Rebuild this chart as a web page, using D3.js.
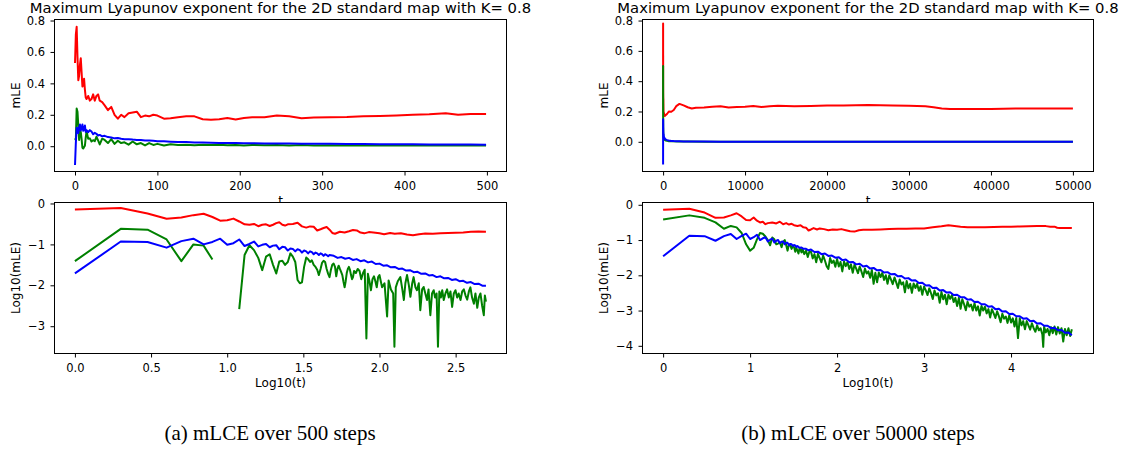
<!DOCTYPE html>
<html>
<head>
<meta charset="utf-8">
<script src="https://cdnjs.cloudflare.com/ajax/libs/d3/7.8.5/d3.min.js"></script>
<style>
  body { margin: 0; background: #fff; }
  svg { display: block; }
  .tick text { font-family: "DejaVu Sans", sans-serif; font-size: 11.5px; fill: #000; }
  .tick line { stroke: #000; stroke-width: 1; }
  .axlabel { font-family: "DejaVu Sans", sans-serif; font-size: 12px; fill: #000; }
  .title { font-family: "DejaVu Sans", sans-serif; font-size: 14.8px; fill: #000; }
  .caption { font-family: "Liberation Serif", serif; font-size: 21px; fill: #000; }
</style>
</head>
<body>
<div id="chart"></div>
<script>
/* jshint esversion: 6*/

/*******  Data ******/
const TITLE = "Maximum Lyapunov exponent for the 2D standard map with K= 0.8";
const captions = ["(a) mLCE over 500 steps", "(b) mLCE over 50000 steps"];

// tick labels
const ticksStepsA = [0, 100, 200, 300, 400, 500];
const ticksStepsB = [0, 10000, 20000, 30000, 40000, 50000];
const ticksMle = [0.0, 0.2, 0.4, 0.6, 0.8];
const ticksLogtA = [0.0, 0.5, 1.0, 1.5, 2.0, 2.5];
const ticksLogtB = [0, 1, 2, 3, 4];
const ticksLogA = [0, -1, -2, -3];
const ticksLogB = [0, -1, -2, -3, -4];

// (a) mLE vs t, [t, mLE]
const redTopA = [[0,0.53],[1,0.71],[2,0.76],[3,0.57],[4,0.42],[5,0.45],[6,0.52],[7,0.56],[8,0.47],[9,0.38],[10,0.39],[11,0.43],[12,0.36],[13,0.31],[14,0.30],[16,0.32],[18,0.29],[20,0.30],[22,0.33],[24,0.29],[26,0.32],[28,0.33],[30,0.29],[33,0.28],[36,0.26],[40,0.23],[44,0.25],[48,0.20],[52,0.175],[56,0.20],[60,0.185],[65,0.21],[70,0.215],[75,0.22],[80,0.185],[85,0.195],[90,0.19],[95,0.20],[100,0.195],[108,0.175],[116,0.178],[125,0.185],[135,0.19],[145,0.19],[155,0.172],[165,0.168],[175,0.172],[185,0.18],[195,0.17],[205,0.18],[215,0.185],[230,0.185],[245,0.195],[260,0.19],[275,0.178],[290,0.182],[310,0.185],[330,0.186],[350,0.19],[370,0.192],[390,0.196],[410,0.2],[430,0.203],[450,0.21],[465,0.2],[480,0.205],[499,0.205]];
const greenTopA = [[0,0.05],[1,0.04],[2,0.24],[3,0.22],[4,0.13],[5,0.04],[6,0.1],[7,0.09],[8,0.045],[9,-0.01],[10,-0.015],[11,-0.005],[12,0.003],[13,0.055],[14,0.095],[16,0.047],[18,0.05],[20,0.03],[22,0.038],[24,0.032],[26,0.06],[28,0.037],[30,0.011],[33,0.048],[36,0.04],[40,0.02],[44,0.045],[48,0.015],[52,0.035],[56,0.02],[60,0.025],[65,0.01],[70,0.03],[75,0.012],[80,0.02],[85,0.005],[90,0.02],[95,0.008],[100,0.015],[108,0.004],[116,0.012],[125,0.008],[135,0.01],[145,0.006],[155,0.01],[165,0.007],[175,0.009],[185,0.006],[195,0.008],[205,0.005],[215,0.008],[230,0.006],[245,0.007],[260,0.005],[275,0.007],[290,0.005],[310,0.006],[330,0.004],[350,0.006],[370,0.005],[390,0.006],[410,0.004],[430,0.006],[450,0.005],[465,0.004],[480,0.005],[499,0.004]];
const blueTopA = [[0,-0.12],[1,0.02],[2,0.117],[3,0.115],[4,0.083],[5,0.12],[6,0.138],[7,0.1],[8,0.115],[9,0.138],[10,0.098],[11,0.107],[12,0.132],[13,0.091],[14,0.102],[16,0.089],[18,0.102],[20,0.093],[22,0.076],[24,0.085],[26,0.079],[28,0.068],[30,0.072],[33,0.063],[36,0.066],[40,0.058],[44,0.055],[48,0.05],[52,0.052],[56,0.047],[60,0.045],[65,0.045],[70,0.042],[75,0.04],[80,0.039],[85,0.037],[90,0.036],[95,0.034],[100,0.032],[108,0.031],[116,0.029],[125,0.027],[135,0.026],[145,0.024],[155,0.023],[165,0.022],[175,0.021],[185,0.0205],[195,0.02],[205,0.019],[215,0.0185],[230,0.018],[245,0.017],[260,0.0165],[275,0.016],[290,0.0155],[310,0.015],[330,0.014],[350,0.0135],[370,0.013],[390,0.0125],[410,0.012],[430,0.0115],[450,0.011],[465,0.0105],[480,0.0102],[499,0.0098]];

// (a) Log10(mLE) vs Log10(t), [log t, log mLE]; null = negative mLE
const redLogA = [[0,-0.15],[0.301,-0.11],[0.477,-0.245],[0.602,-0.375],[0.699,-0.345],[0.778,-0.285],[0.845,-0.25],[0.903,-0.33],[0.954,-0.42],[1.0,-0.41],[1.041,-0.37],[1.079,-0.44],[1.114,-0.51],[1.146,-0.52],[1.176,-0.5],[1.204,-0.555],[1.23,-0.52],[1.255,-0.51],[1.279,-0.55],[1.301,-0.52],[1.322,-0.48],[1.342,-0.46],[1.362,-0.52],[1.38,-0.54],[1.398,-0.51],[1.431,-0.5],[1.462,-0.47],[1.491,-0.56],[1.519,-0.59],[1.544,-0.56],[1.568,-0.57],[1.591,-0.66],[1.613,-0.63],[1.633,-0.6],[1.653,-0.575],[1.672,-0.64],[1.69,-0.72],[1.708,-0.74],[1.74,-0.69],[1.771,-0.71],[1.8,-0.68],[1.826,-0.65],[1.851,-0.66],[1.875,-0.71],[1.9,-0.73],[1.93,-0.7],[1.96,-0.71],[2.0,-0.73],[2.03,-0.75],[2.07,-0.72],[2.1,-0.74],[2.14,-0.73],[2.18,-0.76],[2.22,-0.775],[2.26,-0.75],[2.3,-0.735],[2.35,-0.74],[2.4,-0.73],[2.45,-0.72],[2.5,-0.715],[2.55,-0.71],[2.6,-0.69],[2.65,-0.685],[2.699,-0.69]];
const greenLogA = [[0,-1.41],[0.301,-0.62],[0.477,-0.64],[0.602,-0.88],[0.699,-1.41],[0.778,-1.0],[0.845,-1.03],[0.903,-1.37],[0.954,null],[1.0,null],[1.041,null],[1.079,-2.58],[1.114,-1.26],[1.146,-1.02],[1.176,-1.14],[1.204,-1.33],[1.23,-1.63],[1.255,-1.3],[1.279,-1.24],[1.301,-1.5],[1.322,-1.71],[1.342,-1.42],[1.362,-1.4],[1.38,-1.5],[1.398,-1.43],[1.415,-1.22],[1.431,-1.3],[1.447,-1.43],[1.462,-1.87],[1.477,-1.95],[1.491,-1.93],[1.505,-1.55],[1.519,-1.32],[1.531,-1.36],[1.544,-1.43],[1.556,-1.39],[1.568,-1.5],[1.58,-1.55],[1.591,-1.62],[1.602,-1.75],[1.613,-1.6],[1.623,-1.45],[1.633,-1.4],[1.643,-1.43],[1.653,-1.6],[1.663,-1.72],[1.672,-1.8],[1.681,-1.62],[1.69,-1.5],[1.699,-1.47],[1.708,-1.55],[1.716,-1.78],[1.724,-1.6],[1.732,-1.52],[1.74,-1.6],[1.748,-1.67],[1.756,-1.75],[1.763,-1.9],[1.771,-2.05],[1.778,-1.9],[1.785,-1.7],[1.792,-1.6],[1.799,-1.55],[1.806,-1.62],[1.813,-1.75],[1.82,-1.85],[1.826,-1.8],[1.833,-1.65],[1.845,-1.7],[1.857,-1.6],[1.869,-1.65],[1.88,-1.85],[1.892,-1.7],[1.903,-1.62],[1.914,-3.3],[1.924,-1.72],[1.934,-1.9],[1.944,-2.12],[1.954,-1.85],[1.964,-1.78],[1.973,-1.9],[1.982,-2.05],[1.991,-1.8],[2.0,-1.75],[2.017,-2.05],[2.033,-1.95],[2.05,-2.76],[2.06,-1.88],[2.075,-2.1],[2.09,-2.2],[2.098,-3.5],[2.107,-2.05],[2.12,-1.9],[2.137,-1.8],[2.15,-2.1],[2.16,-2.36],[2.17,-1.95],[2.181,-1.75],[2.193,-2.0],[2.203,-2.28],[2.215,-1.95],[2.224,-1.8],[2.236,-2.05],[2.246,-2.12],[2.258,-1.95],[2.268,-2.61],[2.28,-2.1],[2.29,-2.04],[2.301,-2.2],[2.312,-2.36],[2.322,-2.1],[2.334,-2.73],[2.345,-2.2],[2.356,-2.12],[2.365,-2.3],[2.375,-2.2],[2.384,-3.5],[2.393,-2.15],[2.403,-2.3],[2.412,-2.12],[2.422,-2.36],[2.433,-2.2],[2.444,-2.1],[2.455,-2.3],[2.466,-2.15],[2.477,-2.53],[2.488,-2.2],[2.499,-2.12],[2.51,-2.3],[2.52,-2.2],[2.532,-2.36],[2.543,-2.15],[2.554,-2.1],[2.565,-2.25],[2.576,-2.35],[2.587,-2.15],[2.597,-2.05],[2.608,-2.3],[2.62,-2.45],[2.63,-2.2],[2.642,-2.55],[2.652,-2.3],[2.663,-2.2],[2.674,-2.5],[2.685,-2.73],[2.692,-2.25],[2.699,-2.4]];
const blueLogA = [[0,-1.71],[0.301,-0.93],[0.477,-0.94],[0.602,-1.08],[0.699,-0.92],[0.778,-0.86],[0.845,-1.0],[0.903,-0.94],[0.954,-0.86],[1.0,-1.01],[1.041,-0.97],[1.079,-0.88],[1.114,-1.04],[1.146,-0.99],[1.176,-0.93],[1.204,-1.05],[1.23,-1.01],[1.255,-0.99],[1.279,-1.07],[1.301,-1.03],[1.322,-1.02],[1.342,-1.12],[1.362,-1.06],[1.38,-1.07],[1.398,-1.15],[1.415,-1.1],[1.431,-1.11],[1.447,-1.17],[1.462,-1.12],[1.477,-1.14],[1.491,-1.2],[1.505,-1.15],[1.519,-1.17],[1.531,-1.22],[1.544,-1.17],[1.556,-1.19],[1.568,-1.24],[1.58,-1.2],[1.591,-1.22],[1.602,-1.26],[1.613,-1.22],[1.623,-1.24],[1.633,-1.28],[1.643,-1.24],[1.653,-1.26],[1.663,-1.29],[1.672,-1.26],[1.7,-1.28],[1.725,-1.33],[1.75,-1.31],[1.775,-1.35],[1.8,-1.33],[1.825,-1.38],[1.85,-1.36],[1.875,-1.41],[1.9,-1.39],[1.925,-1.44],[1.95,-1.42],[1.975,-1.48],[2.0,-1.47],[2.025,-1.52],[2.05,-1.51],[2.075,-1.56],[2.1,-1.55],[2.125,-1.6],[2.15,-1.59],[2.175,-1.64],[2.2,-1.63],[2.225,-1.68],[2.25,-1.67],[2.275,-1.72],[2.3,-1.71],[2.325,-1.76],[2.35,-1.75],[2.375,-1.8],[2.4,-1.78],[2.425,-1.83],[2.45,-1.82],[2.475,-1.87],[2.5,-1.85],[2.525,-1.9],[2.55,-1.89],[2.575,-1.94],[2.6,-1.92],[2.625,-1.97],[2.65,-1.96],[2.675,-2.01],[2.699,-2.01]];

// (b) mLE vs t
const redTopB = [[0,0.53],[1,0.72],[2,0.78],[3,0.6],[4,0.43],[5,0.44],[6,0.5],[7,0.57],[8,0.47],[9,0.37],[10,0.36],[12,0.33],[14,0.31],[16,0.3],[20,0.29],[30,0.28],[50,0.2],[100,0.19],[200,0.17],[300,0.175],[500,0.185],[700,0.2],[1000,0.198],[1300,0.21],[1600,0.235],[2000,0.25],[2500,0.24],[3000,0.228],[3500,0.22],[4000,0.225],[5000,0.226],[6000,0.232],[7000,0.235],[8000,0.226],[9000,0.23],[10000,0.232],[11000,0.236],[12000,0.229],[13000,0.235],[14000,0.238],[16000,0.235],[18000,0.236],[20000,0.239],[22000,0.24],[25000,0.242],[28000,0.24],[30000,0.238],[32000,0.234],[33000,0.228],[34000,0.22],[35000,0.216],[37000,0.217],[40000,0.217],[43000,0.219],[46000,0.22],[50000,0.22]];
const greenTopB = [[0,0.16],[1,0.38],[2,0.5],[3,0.43],[4,0.32],[5,0.21],[6,0.25],[7,0.23],[8,0.16],[9,0.076],[10,0.05],[12,0.105],[13,0.16],[14,0.15],[16,0.1],[20,0.076],[30,0.05],[50,0.03],[100,0.02],[200,0.012],[300,0.009],[500,0.006],[700,0.004],[1000,0.003],[2000,0.0017],[3000,0.0012],[5000,0.0008],[10000,0.0004],[20000,0.0002],[30000,0.0002],[50000,0.0002]];
const blueTopB = [[0,-0.15],[1,0.035],[2,0.13],[3,0.13],[4,0.095],[5,0.13],[6,0.148],[7,0.105],[8,0.12],[9,0.14],[10,0.107],[12,0.12],[14,0.11],[16,0.095],[20,0.095],[30,0.065],[50,0.05],[100,0.032],[200,0.022],[300,0.016],[500,0.011],[700,0.008],[1000,0.0056],[1300,0.0045],[1600,0.0038],[2000,0.0032],[2500,0.0026],[3000,0.0022],[4000,0.0017],[5000,0.0014],[7000,0.001],[10000,0.0008],[14000,0.0006],[20000,0.0004],[30000,0.0003],[40000,0.0002],[50000,0.0002]];

// (b) Log10(mLE) vs Log10(t)
const redLogB = [[0,-0.14],[0.301,-0.11],[0.477,-0.22],[0.602,-0.37],[0.699,-0.36],[0.778,-0.3],[0.845,-0.24],[0.903,-0.33],[0.954,-0.43],[1.0,-0.44],[1.041,-0.36],[1.079,-0.45],[1.114,-0.5],[1.146,-0.48],[1.176,-0.55],[1.204,-0.52],[1.255,-0.5],[1.301,-0.53],[1.342,-0.48],[1.38,-0.55],[1.415,-0.52],[1.447,-0.56],[1.477,-0.54],[1.505,-0.58],[1.544,-0.6],[1.58,-0.58],[1.613,-0.64],[1.643,-0.65],[1.672,-0.73],[1.7,-0.7],[1.73,-0.66],[1.77,-0.7],[1.8,-0.67],[1.85,-0.69],[1.9,-0.72],[1.95,-0.7],[2.0,-0.71],[2.05,-0.69],[2.1,-0.72],[2.15,-0.75],[2.2,-0.76],[2.25,-0.72],[2.3,-0.71],[2.4,-0.71],[2.5,-0.7],[2.6,-0.69],[2.7,-0.68],[2.8,-0.68],[2.9,-0.675],[3.0,-0.67],[3.1,-0.64],[3.2,-0.61],[3.28,-0.58],[3.35,-0.6],[3.42,-0.62],[3.5,-0.635],[3.6,-0.64],[3.7,-0.635],[3.8,-0.63],[3.9,-0.625],[4.0,-0.62],[4.1,-0.615],[4.2,-0.61],[4.3,-0.6],[4.4,-0.605],[4.45,-0.62],[4.5,-0.62],[4.53,-0.65],[4.56,-0.66],[4.6,-0.66],[4.65,-0.655],[4.699,-0.66]];
const greenLogB = [[0,-0.42],[0.301,-0.3],[0.477,-0.37],[0.602,-0.5],[0.699,-0.68],[0.778,-0.6],[0.845,-0.64],[0.903,-0.8],[0.954,-1.12],[1.0,-1.3],[1.041,-1.22],[1.079,-0.98],[1.114,-0.8],[1.146,-0.82],[1.176,-0.9],[1.204,-1.0],[1.23,-1.15],[1.255,-0.93],[1.279,-0.98],[1.301,-1.12],[1.322,-1.1],[1.342,-1.06],[1.362,-1.2],[1.38,-1.05],[1.398,-1.0],[1.415,-1.15],[1.431,-1.3],[1.447,-1.12],[1.462,-1.14],[1.477,-1.25],[1.491,-1.16],[1.505,-1.2],[1.519,-1.33],[1.531,-1.22],[1.544,-1.3],[1.556,-1.38],[1.568,-1.24],[1.58,-1.27],[1.591,-1.35],[1.602,-1.25],[1.623,-1.4],[1.643,-1.3],[1.663,-1.48],[1.681,-1.33],
  [1.7,-1.33],[1.72,-1.52],[1.74,-1.4],[1.76,-1.63],[1.78,-1.39],[1.8,-1.51],[1.82,-1.63],[1.84,-1.44],[1.86,-1.58],[1.88,-1.74],[1.9,-1.82],[1.92,-1.51],[1.94,-1.65],[1.96,-1.58],[1.98,-1.76],
  [2.0,-1.54],[2.02,-1.75],[2.04,-1.62],[2.06,-1.89],[2.08,-1.61],[2.1,-1.74],[2.12,-1.63],[2.14,-1.82],[2.16,-1.69],[2.18,-1.93],[2.2,-1.7],[2.22,-1.81],[2.24,-1.94],[2.26,-1.75],[2.28,-1.89],[2.3,-2.05],[2.32,-1.81],[2.34,-1.95],[2.36,-1.89],[2.38,-2.07],[2.4,-1.85],[2.42,-2.24],[2.44,-1.93],[2.46,-2.2],[2.48,-1.92],
  [2.5,-2.05],[2.52,-1.93],[2.54,-2.13],[2.56,-2.0],[2.58,-2.24],[2.6,-2.0],[2.62,-2.12],[2.64,-2.25],[2.66,-2.06],[2.68,-2.2],[2.7,-2.36],[2.72,-2.12],[2.74,-2.26],[2.76,-2.2],[2.78,-2.48],[2.8,-2.16],[2.82,-2.37],[2.84,-2.24],[2.86,-2.5],[2.88,-2.23],[2.9,-2.36],[2.92,-2.24],[2.94,-2.44],[2.96,-2.31],[2.98,-2.55],
  [3.0,-2.32],[3.02,-2.43],[3.04,-2.56],[3.06,-2.37],[3.08,-2.51],[3.1,-2.67],[3.12,-2.43],[3.14,-2.57],[3.16,-2.51],[3.18,-2.78],[3.2,-2.47],[3.22,-2.68],[3.24,-2.55],[3.26,-2.82],[3.28,-2.55],[3.3,-2.67],[3.32,-2.56],[3.34,-2.76],[3.36,-2.64],[3.38,-2.87],[3.4,-2.64],[3.42,-2.95],[3.44,-2.68],[3.46,-2.82],[3.48,-2.99],
  [3.5,-2.75],[3.52,-2.89],[3.54,-2.83],[3.56,-3.0],[3.58,-2.79],[3.6,-3.0],[3.62,-2.88],[3.64,-3.14],[3.66,-2.87],[3.68,-3.0],[3.7,-2.89],[3.72,-3.08],[3.74,-2.96],[3.76,-3.2],[3.78,-2.96],[3.8,-3.08],[3.82,-3.21],[3.84,-3.02],[3.86,-3.16],[3.88,-3.33],[3.9,-3.09],[3.92,-3.23],[3.94,-3.17],[3.96,-3.35],[3.98,-3.13],
  [4.0,-3.34],[4.02,-3.22],[4.04,-3.45],[4.06,-3.21],[4.08,-3.78],[4.1,-3.22],[4.12,-3.42],[4.14,-3.3],[4.16,-3.53],[4.18,-3.3],[4.2,-3.42],[4.22,-3.54],[4.24,-3.36],[4.26,-3.5],[4.28,-3.6],[4.3,-3.42],[4.32,-3.56],[4.34,-3.5],[4.36,-3.68],[4.37,-4.03],[4.38,-3.46],[4.4,-3.62],[4.42,-3.52],[4.44,-3.7],[4.46,-3.47],
  [4.48,-3.64],[4.5,-3.45],[4.52,-3.68],[4.54,-3.47],[4.56,-3.65],[4.58,-3.5],[4.6,-3.88],[4.62,-3.52],[4.64,-3.7],[4.66,-3.5],[4.68,-3.72],[4.699,-3.53]];
const blueLogB = [[0,-1.46],[0.301,-0.88],[0.477,-0.89],[0.602,-1.02],[0.699,-0.89],[0.778,-0.83],[0.845,-0.97],[0.903,-0.88],[0.954,-0.82],[1.0,-0.97],[1.041,-0.92],[1.079,-0.85],[1.114,-1.0],[1.146,-0.95],[1.176,-0.92],[1.204,-1.04],[1.23,-0.99],[1.255,-0.96],[1.279,-1.07],[1.301,-1.02],[1.322,-1.0],[1.342,-1.09],[1.362,-1.05],[1.38,-1.04],[1.398,-1.12],[1.415,-1.08],[1.431,-1.08],[1.447,-1.15],[1.462,-1.11],[1.477,-1.12],[1.491,-1.17],[1.505,-1.14],[1.519,-1.15],[1.531,-1.2],[1.544,-1.17],[1.568,-1.22],[1.591,-1.21],[1.613,-1.25],[1.643,-1.25],[1.672,-1.29],[1.7,-1.27],[1.74,-1.34],[1.78,-1.33],[1.82,-1.4],[1.86,-1.38],[1.9,-1.45],[1.94,-1.44],[1.98,-1.5],[2.02,-1.49],[2.06,-1.57],[2.1,-1.55],[2.14,-1.63],[2.18,-1.62],[2.22,-1.69],[2.26,-1.67],[2.3,-1.75],[2.34,-1.73],[2.38,-1.81],[2.42,-1.79],[2.46,-1.86],[2.5,-1.85],[2.54,-1.92],[2.58,-1.91],[2.62,-1.97],[2.66,-1.96],[2.7,-2.03],[2.74,-2.02],[2.78,-2.09],[2.82,-2.08],[2.86,-2.15],[2.9,-2.14],[2.94,-2.22],[2.98,-2.21],[3.02,-2.29],[3.06,-2.28],[3.1,-2.36],[3.14,-2.35],[3.18,-2.43],[3.22,-2.42],[3.26,-2.49],[3.3,-2.48],[3.34,-2.56],[3.38,-2.55],[3.42,-2.62],[3.46,-2.62],[3.5,-2.69],[3.54,-2.68],[3.58,-2.76],[3.62,-2.75],[3.66,-2.82],[3.7,-2.82],[3.74,-2.89],[3.78,-2.88],[3.82,-2.96],[3.86,-2.95],[3.9,-3.03],[3.94,-3.02],[3.98,-3.1],[4.02,-3.09],[4.06,-3.16],[4.1,-3.16],[4.14,-3.23],[4.18,-3.22],[4.22,-3.3],[4.26,-3.29],[4.3,-3.37],[4.34,-3.36],[4.38,-3.43],[4.42,-3.43],[4.46,-3.5],[4.5,-3.49],[4.54,-3.56],[4.58,-3.55],[4.62,-3.63],[4.66,-3.62],[4.699,-3.7]];

const colors = ["#ff0000", "#008000", "#0000ff"];

/*******  Layout ******/
const svgW = 1132;
const svgH = 454;

const panels = [
  { box: {x0: 54.5, x1: 506.5, y0: 19.5, y1: 171.5}, xDom: [-24.9, 523.8], yDom: [-0.161, 0.8065],
    xTicks: ticksStepsA, xFmt: d3.format("d"), yTicks: ticksMle, yFmt: d3.format(".1f"),
    title: TITLE, xlabel: "t", ylabel: "mLE", series: [redTopA, greenTopA, blueTopA] },
  { box: {x0: 54.5, x1: 506.5, y0: 202.5, y1: 353.5}, xDom: [-0.134, 2.834], yDom: [-3.667, 0.024],
    xTicks: ticksLogtA, xFmt: d3.format(".1f"), yTicks: ticksLogA, yFmt: d3.format("d"),
    xlabel: "Log10(t)", ylabel: "Log10(mLE)", series: [redLogA, greenLogA, blueLogA] },
  { box: {x0: 642.5, x1: 1093.5, y0: 19.5, y1: 171.5}, xDom: [-2513, 52513], yDom: [-0.196, 0.807],
    xTicks: ticksStepsB, xFmt: d3.format("d"), yTicks: ticksMle, yFmt: d3.format(".1f"),
    title: TITLE, xlabel: "t", ylabel: "mLE", series: [redTopB, greenTopB, blueTopB] },
  { box: {x0: 642.5, x1: 1093.5, y0: 202.5, y1: 353.5}, xDom: [-0.237, 4.948], yDom: [-4.218, 0.065],
    xTicks: ticksLogtB, xFmt: d3.format("d"), yTicks: ticksLogB, yFmt: d3.format("d"),
    xlabel: "Log10(t)", ylabel: "Log10(mLE)", series: [redLogB, greenLogB, blueLogB] }
];

const captionX = [270, 858];
const captionY = 440;

var svg = d3.select("#chart")
  .append("svg")
  .attr("width", svgW)
  .attr("height", svgH);

svg.append("rect").attr("width", svgW).attr("height", svgH).attr("fill", "#fff");

// draw one subplot
function drawPanel(p, i) {
  const b = p.box;
  const x = d3.scaleLinear().domain(p.xDom).range([b.x0, b.x1]);
  const y = d3.scaleLinear().domain(p.yDom).range([b.y1, b.y0]);
  const g = svg.append("g");

  // axes background (covers the label of the plot above)
  g.append("rect")
    .attr("x", b.x0).attr("y", b.y0)
    .attr("width", b.x1 - b.x0).attr("height", b.y1 - b.y0)
    .attr("fill", "#fff");

  g.append("clipPath").attr("id", "clip" + i)
    .append("rect")
    .attr("x", b.x0).attr("y", b.y0)
    .attr("width", b.x1 - b.x0).attr("height", b.y1 - b.y0);

  const line = d3.line()
    .defined(d => d[1] !== null)
    .x(d => x(d[0]))
    .y(d => y(d[1]));

  g.append("g").attr("clip-path", `url(#clip${i})`)
    .selectAll("path")
    .data(p.series)
    .enter()
    .append("path")
    .attr("d", line)
    .attr("fill", "none")
    .attr("stroke", (d, k) => colors[k])
    .attr("stroke-width", 2)
    .attr("stroke-linejoin", "round");

  // frame
  g.append("rect")
    .attr("x", b.x0).attr("y", b.y0)
    .attr("width", b.x1 - b.x0).attr("height", b.y1 - b.y0)
    .attr("fill", "none")
    .attr("stroke", "#000")
    .attr("stroke-width", 1);

  const xAxis = g.append("g")
    .attr("transform", `translate(0, ${b.y1})`)
    .call(d3.axisBottom(x).tickValues(p.xTicks).tickFormat(p.xFmt)
      .tickSize(4).tickSizeOuter(0).tickPadding(6));
  xAxis.select(".domain").remove();

  const yAxis = g.append("g")
    .attr("transform", `translate(${b.x0}, 0)`)
    .call(d3.axisLeft(y).tickValues(p.yTicks).tickFormat(p.yFmt)
      .tickSize(4).tickSizeOuter(0).tickPadding(5.5));
  yAxis.select(".domain").remove();
  xAxis.attr("font-family", null).attr("font-size", null);
  yAxis.attr("font-family", null).attr("font-size", null);

  const cx = (b.x0 + b.x1) / 2;
  const cy = (b.y0 + b.y1) / 2;

  if (p.title) {
    g.append("text").attr("class", "title")
      .attr("x", cx).attr("y", 12.5)
      .attr("text-anchor", "middle")
      .text(p.title);
  }

  g.append("text").attr("class", "axlabel")
    .attr("x", cx).attr("y", b.y1 + 33.5)
    .attr("text-anchor", "middle")
    .text(p.xlabel);

  g.append("text").attr("class", "axlabel")
    .attr("transform", `translate(${b.x0 - 35}, ${cy}) rotate(-90)`)
    .attr("text-anchor", "middle")
    .text(p.ylabel);
}

panels.forEach(drawPanel);

// subfigure captions
svg.selectAll(".caption")
  .data(captions)
  .enter()
  .append("text")
  .attr("class", "caption")
  .attr("x", (d, k) => captionX[k])
  .attr("y", captionY)
  .attr("text-anchor", "middle")
  .text(d => d);
</script>
</body>
</html>
